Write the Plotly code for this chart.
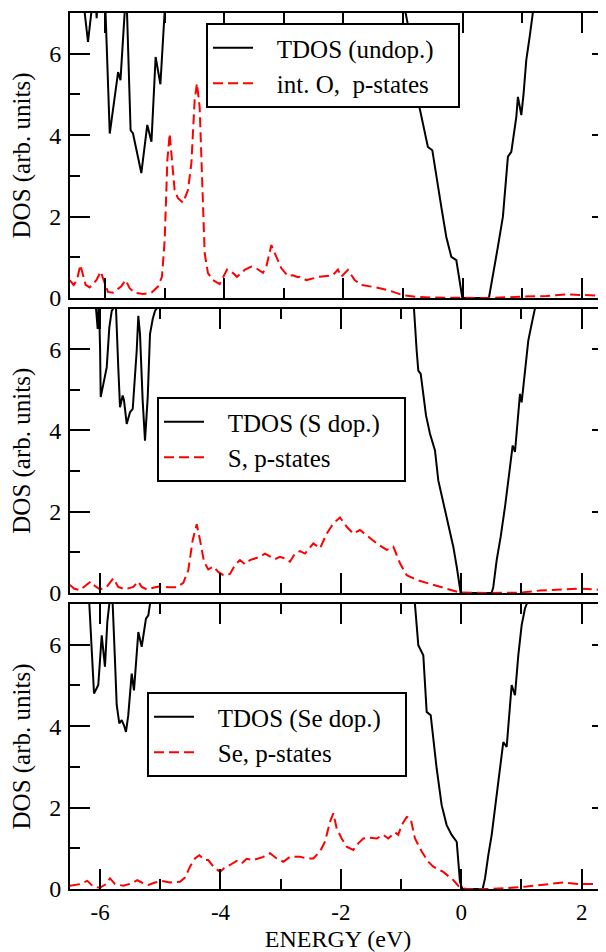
import plotly.graph_objects as go

# ---------------- data ----------------
# Panel 1: undoped
e_tdos_undop = [-6.60, -6.34, -6.285, -6.23, -6.18, -6.16, -6.14, -6.12, -6.05, -5.99, -5.92,
                -5.78, -5.74, -5.67, -5.65, -5.63, -5.57, -5.53, -5.39, -5.29, -5.22, -5.15,
                -5.07, -5.0, -4.95, -1.0, -0.955, -0.888, -0.748, -0.664, -0.581, -0.507,
                -0.44, -0.356, -0.272, -0.188, -0.104, -0.003, 0.443, 0.51, 0.594, 0.678,
                0.762, 0.819, 0.903, 0.93, 0.987, 1.025, 1.07, 1.126, 1.18, 1.25, 2.45]
tdos_undop = [12, 7.0, 6.29, 7.0, 9, 7.4, 6.87, 7.4, 12, 7.0, 4.04,
              5.55, 5.35, 7.0, 9, 7.0, 4.12, 4.04, 3.07, 4.25, 3.84, 5.92,
              5.25, 7.0, 12, 12, 7.0, 6.5, 4.86, 4.25, 3.71, 3.63,
              2.98, 2.24, 1.50, 1.01, 0.93, 0.0, 0.0, 0.52, 1.26, 2.0,
              3.47, 3.59, 4.45, 4.94, 4.49, 5.02, 5.84, 6.41, 7.0, 12, 12]

e_pdos_O = [-6.592, -6.525, -6.47, -6.413, -6.324, -6.257, -6.144, -6.072, -6.022, -5.95,
            -5.866, -5.725, -5.653, -5.586, -5.502, -5.362, -5.221, -5.111, -5.044, -4.998,
            -4.953, -4.914, -4.876, -4.831, -4.775, -4.691, -4.607, -4.55, -4.495, -4.456,
            -4.411, -4.366, -4.327, -4.272, -4.188, -4.076, -4.02, -3.953, -3.879, -3.785,
            -3.656, -3.544, -3.46, -3.349, -3.292, -3.208, -3.124, -3.04, -2.93, -2.846,
            -2.762, -2.733, -2.621, -2.398, -2.174, -2.091, -2.034, -1.923, -1.81, -1.698,
            -1.446, -1.223, -1.0, -0.775, -0.502, -0.049, 0.4, 0.958, 1.406, 1.742,
            2.02, 2.41]
pdos_O = [0.44, 0.32, 0.44, 0.81, 0.32, 0.26, 0.44, 0.65, 0.44, 0.15,
          0.13, 0.29, 0.44, 0.24, 0.13, 0.10, 0.13, 0.28, 0.52, 1.42,
          3.39, 4.04, 3.39, 2.65, 2.45, 2.34, 2.65, 3.31, 4.86, 5.27,
          4.69, 2.57, 1.10, 0.61, 0.44, 0.34, 0.52, 0.70, 0.65, 0.52,
          0.69, 0.77, 0.73, 0.62, 0.77, 1.30, 1.01, 0.73, 0.54, 0.56,
          0.51, 0.52, 0.44, 0.52, 0.56, 0.70, 0.52, 0.69, 0.44, 0.32,
          0.26, 0.18, 0.07, 0.03, 0.01, 0.0, 0.0, 0.03, 0.05, 0.09,
          0.07, 0.05]

# Panel 2: S doped
e_tdos_S = [-6.10, -6.068, -6.04, -6.02, -6.0, -5.99, -5.89, -5.847, -5.807, -5.781, -5.76,
            -5.736, -5.698, -5.669, -5.625, -5.603, -5.558, -5.503, -5.458, -5.392, -5.365,
            -5.337, -5.293, -5.254, -5.209, -5.171, -5.126, -5.088, -5.06, -5.0, -0.85,
            -0.786, -0.741, -0.714, -0.674, -0.586, -0.52, -0.437, -0.382, -0.299, -0.216,
            -0.133, -0.076, -0.01, 0.505, 0.532, 0.588, 0.654, 0.726, 0.809, 0.854,
            0.892, 0.93, 0.975, 1.003, 1.03, 1.113, 1.169, 1.224, 1.3, 2.45]
tdos_S = [12, 7.0, 6.5, 7.2, 6.0, 4.82, 5.55, 6.53, 6.94, 7.0, 9,
          7.0, 5.55, 4.57, 4.86, 4.74, 4.16, 4.45, 4.53, 5.96, 6.82,
          6.37, 4.74, 3.75, 4.82, 6.37, 6.74, 6.94, 7.0, 12, 12,
          7.0, 5.96, 5.47, 5.39, 4.37, 3.92, 3.51, 2.77, 2.20, 1.63,
          1.14, 0.65, 0.0, 0.0, 0.15, 0.81, 1.38, 2.12, 3.10, 3.63,
          3.47, 4.08, 4.90, 4.69, 5.06, 6.21, 6.62, 7.0, 12, 12]

e_pdos_S = [-6.5, -6.434, -6.334, -6.213, -6.156, -6.085, -6.002, -5.89, -5.781, -5.698,
            -5.586, -5.449, -5.365, -5.309, -5.226, -5.088, -4.977, -4.867, -4.728, -4.618,
            -4.535, -4.462, -4.395, -4.34, -4.274, -4.203, -4.12, -4.037, -3.953, -3.842,
            -3.759, -3.676, -3.593, -3.51, -3.427, -3.344, -3.261, -3.178, -3.095, -3.013,
            -2.929, -2.846, -2.762, -2.679, -2.596, -2.458, -2.347, -2.236, -2.126, -2.015,
            -1.904, -1.794, -1.683, -1.571, -1.405, -1.239, -1.129, -1.018, -0.907, -0.741,
            -0.465, -0.243, -0.022, 0.422, 0.975, 1.307, 1.64, 1.972, 2.41]
pdos_S = [0.20, 0.11, 0.07, 0.20, 0.28, 0.17, 0.09, 0.15, 0.36, 0.15,
          0.09, 0.15, 0.28, 0.15, 0.09, 0.14, 0.17, 0.14, 0.14, 0.25,
          0.56, 1.30, 1.69, 1.30, 0.77, 0.58, 0.65, 0.52, 0.44, 0.47,
          0.69, 0.81, 0.71, 0.81, 0.85, 0.89, 0.97, 0.89, 0.83, 0.89,
          0.85, 0.77, 0.97, 1.03, 0.97, 1.22, 1.10, 1.46, 1.71, 1.86,
          1.63, 1.46, 1.55, 1.42, 1.22, 1.06, 1.14, 0.73, 0.44, 0.32,
          0.20, 0.11, 0.01, 0.0, 0.01, 0.06, 0.09, 0.11, 0.07]

# Panel 3: Se doped
e_tdos_Se = [-6.25, -6.179, -6.101, -6.03, -5.973, -5.919, -5.88, -5.847, -5.82, -5.791,
             -5.752, -5.724, -5.681, -5.641, -5.603, -5.57, -5.532, -5.475, -5.437, -5.392,
             -5.365, -5.309, -5.271, -5.238, -5.199, -5.171, -5.1, -0.85, -0.77, -0.714,
             -0.631, -0.575, -0.508, -0.465, -0.409, -0.326, -0.243, -0.16, -0.076, -0.022,
             0.017, 0.355, 0.394, 0.449, 0.505, 0.56, 0.643, 0.698, 0.754, 0.781,
             0.837, 0.892, 0.947, 1.003, 1.058, 1.086, 1.15, 2.45]
tdos_Se = [12, 7.0, 4.80, 5.01, 6.23, 5.46, 6.56, 7.0, 9, 7.0,
           5.58, 4.52, 4.07, 4.15, 4.02, 3.86, 4.27, 5.29, 4.88, 5.87,
           6.31, 5.95, 6.31, 6.64, 6.72, 7.0, 12, 12, 7.0, 5.99,
           5.74, 4.35, 4.27, 3.70, 2.96, 2.06, 1.57, 1.33, 1.16, 0.18,
           0.0, 0.0, 0.26, 0.83, 1.33, 1.98, 2.88, 3.61, 3.49, 3.94,
           5.01, 4.76, 5.74, 6.48, 6.89, 7.0, 12, 12]

e_pdos_Se = [-6.5, -6.334, -6.213, -6.113, -6.002, -5.902, -5.836, -5.752, -5.615, -5.475,
             -5.382, -5.309, -5.199, -5.088, -4.977, -4.839, -4.673, -4.59, -4.507, -4.424,
             -4.352, -4.257, -4.203, -4.12, -4.008, -3.942, -3.842, -3.731, -3.648, -3.565,
             -3.455, -3.372, -3.289, -3.178, -3.067, -2.957, -2.846, -2.679, -2.568, -2.458,
             -2.347, -2.264, -2.181, -2.126, -2.070, -1.987, -1.904, -1.794, -1.711, -1.628,
             -1.517, -1.405, -1.296, -1.213, -1.101, -1.047, -0.99, -0.907, -0.841, -0.769,
             -0.658, -0.548, -0.465, -0.299, -0.133, -0.022, 0.09, 0.422, 0.754, 1.086,
             1.418, 1.694, 1.972, 2.41]
pdos_Se = [0.08, 0.12, 0.20, 0.06, 0.03, 0.12, 0.26, 0.12, 0.08, 0.14,
           0.22, 0.16, 0.10, 0.16, 0.20, 0.16, 0.18, 0.28, 0.55, 0.75,
           0.83, 0.71, 0.71, 0.55, 0.42, 0.51, 0.59, 0.69, 0.63, 0.74,
           0.71, 0.75, 0.79, 0.88, 0.75, 0.67, 0.79, 0.79, 0.75, 0.75,
           0.92, 1.16, 1.65, 1.86, 1.49, 1.24, 1.04, 0.96, 1.12, 1.24,
           1.26, 1.24, 1.33, 1.24, 1.39, 1.33, 1.57, 1.77, 1.73, 1.24,
           0.92, 0.67, 0.55, 0.42, 0.22, 0.03, 0.0, 0.0, 0.02, 0.06,
           0.12, 0.16, 0.12, 0.12]

panel_names = [("TDOS (undop.)", "int. O,\u00a0 p-states"),
               ("TDOS (S dop.)", "S, p-states"),
               ("TDOS (Se dop.)", "Se, p-states")]
x_ranges = [[-6.587, 2.408], [-6.5, 2.404], [-6.5, 2.404]]
y_range = [0, 7]
x_tick_vals = [-6, -4, -2, 0, 2]
x_tick_text = ["-6", "-4", "-2", "0", "2"]
y_tick_vals = [0, 2, 4, 6]
y_tick_text = ["0", "2", "4", "6"]
y_title = "DOS (arb. units)"
x_title = "ENERGY (eV)"

# ---------------- figure ----------------
FONT = "Liberation Serif, Tinos, Times New Roman, serif"
OFF = 8                      # page body margin of the browser
W, H = 606 - OFF, 952 - OFF
ML, MR = 70 - OFF, 0
MT = 13 - OFF
MB = H - (889 - OFF)
ph = H - MT - MB
pw = W - ML - MR
# panel pixel extents in window coords (top, bottom)
panels_px = [(13, 298), (308.5, 593), (604, 889)]
domains = []
for (t, b) in panels_px:
    t -= OFF
    b -= OFF
    lo = (H - MB - b) / ph
    hi = (H - MB - t) / ph
    domains.append([max(0.0, min(1.0, lo)), max(0.0, min(1.0, hi))])

fig = go.Figure()
series = [(e_tdos_undop, tdos_undop, e_pdos_O, pdos_O),
          (e_tdos_S, tdos_S, e_pdos_S, pdos_S),
          (e_tdos_Se, tdos_Se, e_pdos_Se, pdos_Se)]

legend_boxes = [(206, 23), (157, 397), (147, 692)]   # window coords of legend box top-left
PAD = "\u00a0\u00a0\u00a0"
TAIL = "\u00a0\u00a0\u00a0"

for i, (ex, tv, epx, pv) in enumerate(series):
    n = i + 1
    xa = "x" if n == 1 else f"x{n}"
    ya = "y" if n == 1 else f"y{n}"
    lg = "legend" if n == 1 else f"legend{n}"
    fig.add_trace(go.Scatter(x=ex, y=tv, mode="lines", name=PAD + panel_names[i][0] + TAIL,
                             line=dict(color="black", width=2),
                             xaxis=xa, yaxis=ya, legend=lg))
    fig.add_trace(go.Scatter(x=epx, y=pv, mode="lines", name=PAD + panel_names[i][1],
                             line=dict(color="red", width=2, dash="10px,5px"),
                             xaxis=xa, yaxis=ya, legend=lg))
    # invisible trace to activate right-side tick axis
    fig.add_trace(go.Scatter(x=[None], y=[None], xaxis=xa, yaxis=f"y{n+3}",
                             showlegend=False, hoverinfo="skip"))

layout = dict(
    width=W, height=H,
    margin=dict(l=ML, r=MR, t=MT, b=MB),
    paper_bgcolor="white", plot_bgcolor="white",
    font=dict(family=FONT, size=24, color="black"),
    showlegend=True,
)

for i in range(3):
    n = i + 1
    xk = "xaxis" if n == 1 else f"xaxis{n}"
    yk = "yaxis" if n == 1 else f"yaxis{n}"
    ya = "y" if n == 1 else f"y{n}"
    xa = "x" if n == 1 else f"x{n}"
    layout[xk] = dict(
        domain=[0, 1], anchor=ya, range=x_ranges[i],
        showline=True, linewidth=2, linecolor="black", mirror="ticks",
        ticks="inside", ticklen=20, tickwidth=1.5, tickcolor="black",
        tickvals=x_tick_vals, ticktext=x_tick_text, showgrid=False, zeroline=False,
        minor=dict(dtick=1, ticks="inside", ticklen=10, tickwidth=1.5, tickcolor="black", showgrid=False),
        showticklabels=(n == 3), ticklabelstandoff=1,
        tickfont=dict(family=FONT, size=23),
        title=dict(text=x_title if n == 3 else "", font=dict(family=FONT, size=24), standoff=10),
    )
    layout[yk] = dict(
        domain=domains[i], anchor=xa, range=y_range,
        showline=True, linewidth=2, linecolor="black", mirror=False,
        ticks="inside", ticklen=20, tickwidth=1.5, tickcolor="black",
        tickvals=y_tick_vals, ticktext=y_tick_text, showgrid=False, zeroline=False,
        minor=dict(dtick=1, ticks="inside", ticklen=10, tickwidth=1.5, tickcolor="black", showgrid=False),
        tickfont=dict(family=FONT, size=24), ticklabelstandoff=2,
        title=dict(text=y_title, font=dict(family=FONT, size=25), standoff=11),
    )
    layout[f"yaxis{n+3}"] = dict(
        overlaying=ya, side="right", anchor=xa, range=y_range,
        showline=False, ticks="inside", ticklen=14, tickwidth=1.5, tickcolor="black",
        tickvals=y_tick_vals, showticklabels=False, showgrid=False, zeroline=False,
        minor=dict(dtick=1, ticks="inside", ticklen=4, tickwidth=1.5, tickcolor="black", showgrid=False),
    )
    lg = "legend" if n == 1 else f"legend{n}"
    bx, by = legend_boxes[i]
    layout[lg] = dict(
        x=(bx - 70) / pw, y=1 - (by - 13) / ph,
        xanchor="left", yanchor="top",
        bgcolor="white", bordercolor="black", borderwidth=2,
        font=dict(family=FONT, size=25, color="black"),
        itemwidth=40, tracegroupgap=0,
    )

fig.update_layout(**layout)
fig.write_html("out.html")
